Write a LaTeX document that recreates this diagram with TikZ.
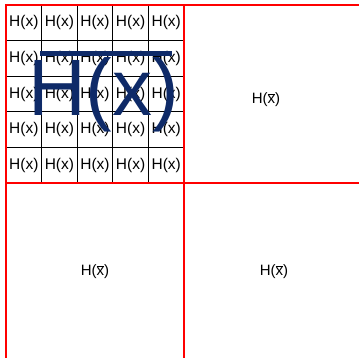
\documentclass[tikz,border=0pt]{standalone}
\usepackage{fontspec}
\setmainfont{Liberation Sans}
\definecolor{bigblue}{RGB}{14,42,104}
\begin{document}
\begin{tikzpicture}[x=1pt, y=-1pt]

		% Styles
		\tikzset{cell/.style={rectangle, draw=black, dash pattern=on 2pt off 0.6pt, line width=1.2pt,
		minimum width=35.6pt, minimum height=35.6pt, inner sep=0pt, font=\fontsize{15.5}{17}\selectfont},
		quad/.style={rectangle, draw=red, line width=2.8pt, minimum width=178pt, minimum height=178pt, inner sep=0pt},
		qlabel/.style={font=\fontsize{15}{17}\selectfont, inner sep=0pt}}

		\useasboundingbox (0,0) rectangle (359,358);
		\clip (0,0) rectangle (359,358);

		% 5x5 grid of small cells
		\foreach \i in {0,...,4} {
			\foreach \j in {0,...,4} {
				\node[cell] (c\i\j) at ({6+35.6*(\i+0.5)}, {5+35.6*(\j+0.5)}) {H(x)};
			}
		}

		% Big overlay text with its bar
		\node[anchor=base west, inner sep=0pt, text=bigblue, font=\fontsize{80}{82}\selectfont] (big) at (28,116) {H(x)};
		\coordinate (ol) at ([xshift=12pt,yshift=62pt]big.base west);
		\coordinate (or) at ([xshift=-7pt,yshift=62pt]big.base east);
		\draw[bigblue, line width=5pt] (ol) -- (or);

		% Quadrants
		\node[quad] (tl) at (95,94) {};
		\node[quad] (tr) at (273,94) {};
		\node[quad] (bl) at (95,272) {};
		\node[quad] (br) at (273,272) {};

		% Labels
		\node[qlabel] (ltr) at ([xshift=-7pt,yshift=-6pt]tr.center) {H($\overline{\hbox{x}}$)};
		\node[qlabel] (lbl) at (bl.center) {H($\overline{\hbox{x}}$)};
		\node[qlabel] (lbr) at ([xshift=1pt]br.center) {H($\overline{\hbox{x}}$)};

	\end{tikzpicture}
\end{document}
